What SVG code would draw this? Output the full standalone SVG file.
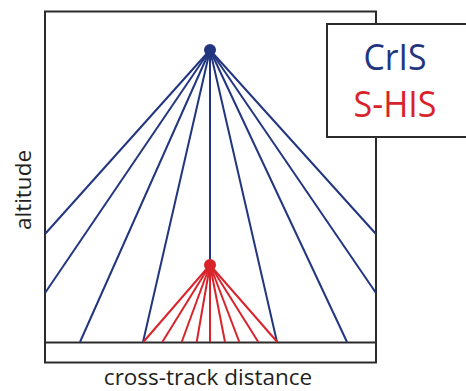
<svg xmlns="http://www.w3.org/2000/svg" width="466" height="391" viewBox="0 0 466 391">
<style>
.frame{fill:none;stroke:#2b2b2b;stroke-width:2}
.blue{stroke:#22357f;stroke-width:2;fill:none}
.red{stroke:#d9232b;stroke-width:2;fill:none}
.lbl{font-family:"Open Sans","Noto Sans",sans-serif;fill:#231f20}
</style>
<rect width="466" height="391" fill="#fff"/>
<g id="frame">
<rect class="frame" x="45" y="11.5" width="331" height="351"/>
<line class="frame" x1="45" y1="342.5" x2="376" y2="342.5"/>
</g>
<g id="connectors">
<g class="blue">
<line x1="210" y1="50" x2="45" y2="234"/>
<line x1="210" y1="50" x2="45" y2="293"/>
<line x1="210" y1="50" x2="80" y2="342"/>
<line x1="210" y1="50" x2="143" y2="342"/>
<line x1="210" y1="50" x2="210" y2="265"/>
<line x1="210" y1="50" x2="277" y2="342"/>
<line x1="210" y1="50" x2="347" y2="342"/>
<line x1="210" y1="50" x2="376" y2="293"/>
<line x1="210" y1="50" x2="376" y2="234"/>
</g>
<g class="red">
<line x1="210" y1="265" x2="143.3" y2="342"/>
<line x1="210" y1="265" x2="162.3" y2="342"/>
<line x1="210" y1="265" x2="181.7" y2="342"/>
<line x1="210" y1="265" x2="196.7" y2="342"/>
<line x1="210" y1="265" x2="210" y2="342"/>
<line x1="210" y1="265" x2="225" y2="342"/>
<line x1="210" y1="265" x2="239.3" y2="342"/>
<line x1="210" y1="265" x2="258.3" y2="342"/>
<line x1="210" y1="265" x2="277.3" y2="342"/>
</g>
</g>
<g id="cris-sensor"><circle cx="210" cy="50" r="6" fill="#22357f"/></g>
<g id="shis-sensor"><circle cx="210" cy="265" r="6" fill="#d9232b"/></g>
<g id="legend">
<rect x="327" y="24" width="142" height="113" fill="#fff" stroke="#2b2b2b" stroke-width="2"/>
<text x="395" y="70" text-anchor="middle" font-family="'Open Sans','Noto Sans',sans-serif" font-size="36" fill="#22357f" textLength="63" lengthAdjust="spacingAndGlyphs">CrIS</text>
<text x="395" y="117" text-anchor="middle" font-family="'Open Sans','Noto Sans',sans-serif" font-size="36" fill="#d9232b" textLength="83" lengthAdjust="spacingAndGlyphs">S-HIS</text>
</g>
<g id="axis-labels">
<text class="lbl" x="208" y="385" text-anchor="middle" font-size="22.5">cross-track distance</text>
<text class="lbl" transform="translate(31,190) rotate(-90)" text-anchor="middle" font-size="22.5">altitude</text>
</g>
</svg>
